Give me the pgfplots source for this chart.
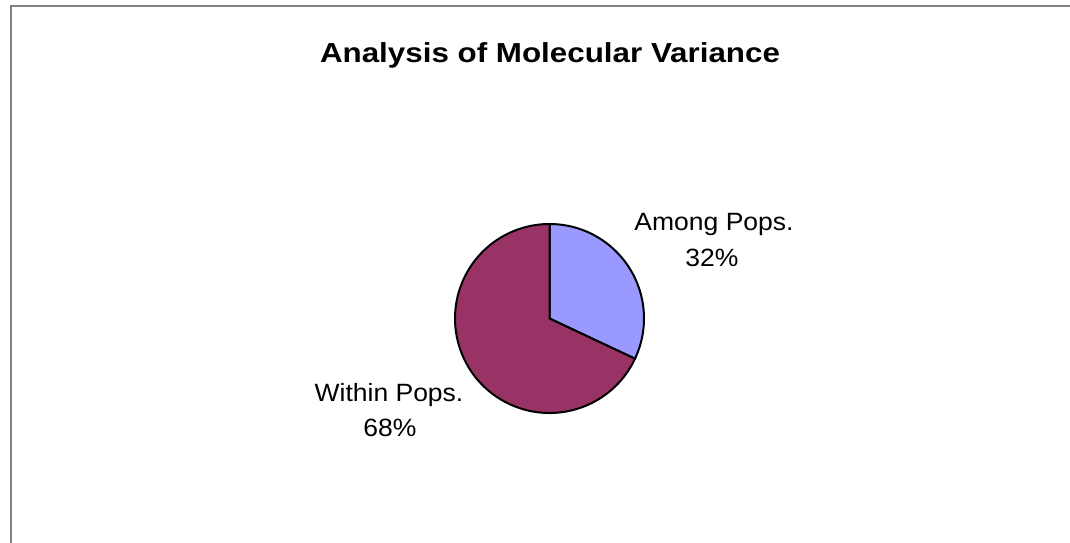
\documentclass[border=0pt]{standalone}
\usepackage{fontspec}
\setmainfont{Liberation Sans}
\usepackage{pgfplots}
\pgfplotsset{compat=1.18}
\usepackage{graphicx}
\definecolor{among}{HTML}{9999FF}
\definecolor{within}{HTML}{993366}
\definecolor{frame}{HTML}{808080}
% data (percent)
\def\vAmong{32}
\def\vWithin{68}
\pgfmathsetmacro{\aStart}{90}
\pgfmathsetmacro{\aMid}{90-3.6*\vAmong}
\pgfmathsetmacro{\aEnd}{\aMid-3.6*\vWithin}
\begin{document}
\begin{tikzpicture}
\begin{axis}[scale only axis, width=1070bp, height=543bp,
  xmin=0, xmax=1070, ymin=0, ymax=543, y dir=reverse,
  hide axis, clip=false]
% frame (right and bottom edges outside the picture)
\draw[frame, line width=2bp] (axis cs:10.5,560) -- (axis cs:10.5,6.5) -- (axis cs:1090,6.5);
% pie slices
\filldraw[fill=among, draw=black, line width=2bp, line join=round]
  (axis cs:549.5,318.5) -- ++(\aStart:94.5bp) arc[start angle=\aStart, end angle=\aMid, radius=94.5bp] -- cycle;
\filldraw[fill=within, draw=black, line width=2bp, line join=round]
  (axis cs:549.5,318.5) -- ++(\aMid:94.5bp) arc[start angle=\aMid, end angle=\aEnd, radius=94.5bp] -- cycle;
% title
\node[anchor=base, inner sep=0pt] at (axis cs:550,62.3)
  {\scalebox{1.14}[1]{\fontsize{27.5bp}{32bp}\selectfont\bfseries Analysis of Molecular Variance}};
% labels
\node[anchor=base, inner sep=0pt] at (axis cs:714,230.7)
  {\scalebox{1.06}[1]{\fontsize{25bp}{30bp}\selectfont Among Pops.}};
\node[anchor=base, inner sep=0pt] at (axis cs:712,266.7)
  {\scalebox{1.06}[1]{\fontsize{25bp}{30bp}\selectfont \vAmong\%}};
\node[anchor=base, inner sep=0pt] at (axis cs:389,401.7)
  {\scalebox{1.06}[1]{\fontsize{25bp}{30bp}\selectfont Within Pops.}};
\node[anchor=base, inner sep=0pt] at (axis cs:390,436.7)
  {\scalebox{1.06}[1]{\fontsize{25bp}{30bp}\selectfont \vWithin\%}};
\end{axis}
\pgfresetboundingbox
\path (0,0) rectangle (1070bp,543bp);
\end{tikzpicture}
\end{document}
